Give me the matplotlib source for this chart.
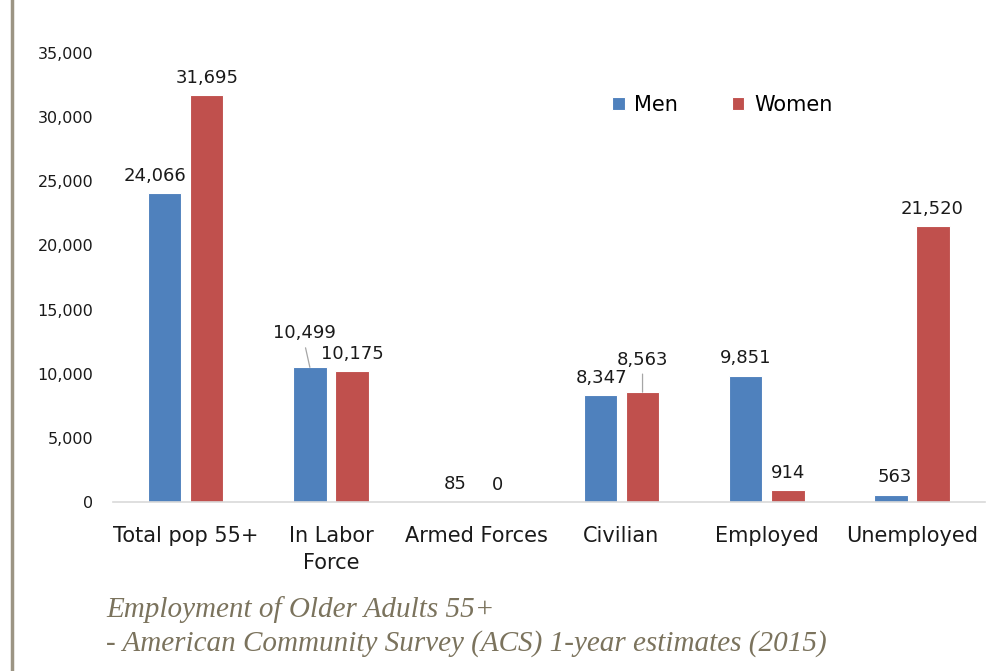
import matplotlib.pyplot as plt
import numpy as np
from matplotlib.lines import Line2D

categories = ["Total pop 55+", "In Labor\nForce", "Armed Forces", "Civilian", "Employed", "Unemployed"]
men = [24066, 10499, 85, 8347, 9851, 563]
women = [31695, 10175, 0, 8563, 914, 21520]
yticks = [0, 5000, 10000, 15000, 20000, 25000, 30000, 35000]

# label offsets in points (dx, dy) from bar top centre
men_off = [(-7, 6), (-4, 18), (0, 6), (1, 6), (0, 6), (3, 6)]
women_off = [(0, 6), (0, 6), (0, 6), (0, 17), (0, 6), (-1, 6)]
men_leader = [False, True, False, False, False, False]
women_leader = [False, False, False, True, False, False]

fig = plt.figure(figsize=(9.95, 6.71), dpi=100)
ax = fig.add_axes([0.1136, 0.2519, 0.876, 0.669])

x = np.arange(len(categories))
w = 0.23
gap = 0.06
c_men = "#4f81bd"
c_women = "#c0504d"
b1 = ax.bar(x - (w + gap) / 2, men, w, color=c_men, edgecolor="white", linewidth=0.8, label="Men")
b2 = ax.bar(x + (w + gap) / 2, women, w, color=c_women, edgecolor="white", linewidth=0.8, label="Women")

def label_bars(bars, vals, offs, leaders):
    for b, v, (dx, dy), ld in zip(bars, vals, offs, leaders):
        cx = b.get_x() + b.get_width() / 2
        if ld:
            ax.annotate(f"{v:,}", xy=(cx, v), xytext=(dx, dy), textcoords="offset points",
                        ha="center", va="bottom", fontsize=13, color="#1a1a1a",
                        arrowprops=dict(arrowstyle="-", color="#a6a6a6", lw=0.9,
                                        shrinkA=2, shrinkB=0,
                                        relpos=(0.5, 0)))
        else:
            ax.annotate(f"{v:,}", xy=(cx, v), xytext=(dx, dy), textcoords="offset points",
                        ha="center", va="bottom", fontsize=13, color="#1a1a1a")

label_bars(b1, men, men_off, men_leader)
label_bars(b2, women, women_off, women_leader)

ax.set_xlim(-0.5, len(categories) - 0.5)
ax.set_ylim(0, 35000)
ax.set_yticks(yticks)
ax.set_yticklabels([f"{t:,}" for t in yticks], fontsize=11.5, color="#1a1a1a")
ax.set_xticks(x)
ax.set_xticklabels(categories, fontsize=15, color="#1a1a1a", linespacing=1.45)
ax.tick_params(axis="both", length=0)
ax.tick_params(axis="y", pad=14)
ax.tick_params(axis="x", pad=17)
for s in ["top", "right", "left"]:
    ax.spines[s].set_visible(False)
ax.spines["bottom"].set_color("#d9d9d9")
ax.spines["bottom"].set_linewidth(1.2)

ax.legend(loc="upper left", bbox_to_anchor=(0.551, 0.948), ncol=2, frameon=False,
          fontsize=15, handlelength=0.6, handleheight=0.6, columnspacing=2.6, handletextpad=0.45)

# left decorative rule
fig.add_artist(Line2D([0.0121, 0.0121], [0, 1], transform=fig.transFigure,
                      color="#9c9584", lw=2.5))

cap_color = "#7b735d"
fig.text(0.107, 0.080, "Employment of Older Adults 55+", fontsize=21,
         family="Liberation Serif", style="italic", color=cap_color)
fig.text(0.107, 0.031, "- American Community Survey (ACS) 1-year estimates (2015)", fontsize=21,
         family="Liberation Serif", style="italic", color=cap_color)

fig.savefig("out.png", dpi=100)
